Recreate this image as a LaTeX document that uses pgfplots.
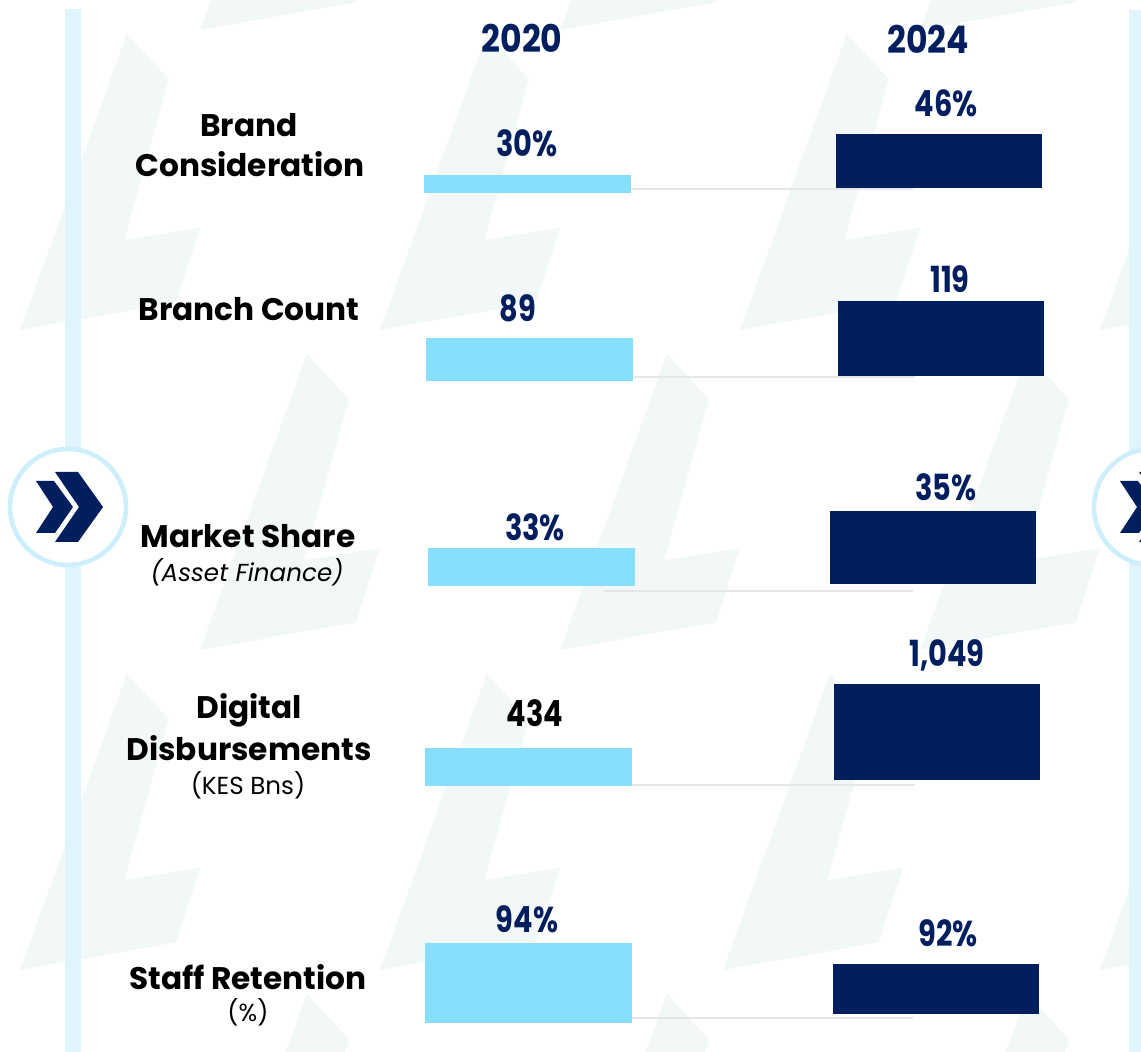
\documentclass[border=0pt]{standalone}
\usepackage{pgfplots}
\usepackage{pgfplotstable}
\usepackage{graphicx}
\usepackage{fontspec}
\setmainfont{Poppins}
\pgfplotsset{compat=1.18}
\definecolor{lb}{RGB}{135,223,252}
\definecolor{navy}{RGB}{1,31,95}
\definecolor{strip}{RGB}{223,244,253}
\definecolor{ring}{RGB}{205,239,252}
\definecolor{gline}{RGB}{230,230,230}
\definecolor{bgc}{RGB}{242,247,247}
\newcommand\catfont{\fontsize{15.6pt}{19pt}\selectfont\bfseries}
\newcommand\subfont{\fontsize{12.3pt}{14pt}\selectfont}
\newcommand\val[1]{\scalebox{0.8}[1]{\fontsize{18pt}{20pt}\selectfont\bfseries #1}}
\newcommand\yr[1]{\scalebox{0.87}[1]{\fontsize{19pt}{21pt}\selectfont\bfseries #1}}
\pgfplotstableread{
x y
0 0
89 -247
124 -209
87 -75
150 -85
130 -23
}\boltshape
\newcommand\bolt[2]{\addplot[fill=bgc, draw=none, forget plot] table[x expr=\thisrow{x}*1.2+#1, y expr=\thisrow{y}*1.2+#2] {\boltshape} -- cycle;}
% bar geometry in pixel units: x0 x1 ytop ybottom colour
\newcommand\rect[5]{\addplot[fill=#5, draw=none, forget plot] coordinates {(#1,#3) (#2,#3) (#2,#4) (#1,#4)} -- cycle;}
\begin{document}
\begin{tikzpicture}
\begin{axis}[at={(0,0)}, anchor=south west, scale only axis,
  width=570.5pt, height=526pt, xmin=0, xmax=1141, ymin=0, ymax=1052,
  y dir=reverse, hide axis, clip=true]
% background pattern
\bolt{200}{30}\bolt{560}{30}\bolt{920}{30}
\bolt{20}{330}\bolt{380}{330}\bolt{740}{330}\bolt{1100}{330}
\bolt{200}{650}\bolt{560}{650}\bolt{920}{650}
\bolt{20}{970}\bolt{380}{970}\bolt{723}{970}\bolt{1100}{970}
\bolt{200}{1290}\bolt{560}{1290}\bolt{920}{1290}
% vertical strips
\rect{65}{81}{9}{1060}{strip}
\rect{1129}{1150}{10}{1060}{strip}
% base lines
\addplot[gline, line width=1pt, forget plot] coordinates {(604,189) (913,189)};
\addplot[gline, line width=1pt, forget plot] coordinates {(604,377) (915,377)};
\addplot[gline, line width=1pt, forget plot] coordinates {(604,591) (913,591)};
\addplot[gline, line width=1pt, forget plot] coordinates {(604,785) (915,785)};
\addplot[gline, line width=1pt, forget plot] coordinates {(604,1018) (913,1018)};
% circles with chevrons
\draw[ring, line width=2.3pt, fill=white] (axis cs:68,507) circle[radius=29pt];
\draw[ring, line width=2.3pt, fill=white] (axis cs:1152,507) circle[radius=29pt];
\addplot[fill=navy, draw=none, forget plot] coordinates {(36,481) (54,481) (73,507) (55,533) (36,533) (53,507)} -- cycle;
\addplot[fill=navy, draw=none, forget plot] coordinates {(55,472) (78,472) (103,507) (78,542) (55,542) (79,507)} -- cycle;
\addplot[fill=navy, draw=none, forget plot] coordinates {(1120,481) (1138,481) (1157,507) (1139,533) (1120,533) (1137,507)} -- cycle;
\addplot[fill=navy, draw=none, forget plot] coordinates {(1139,472) (1162,472) (1187,507) (1162,542) (1139,542) (1163,507)} -- cycle;
% bars 2020 (light blue)
\rect{424}{631}{175}{193}{lb}
\rect{426}{633}{338}{381}{lb}
\rect{428}{635}{548}{586}{lb}
\rect{425}{632}{748}{786}{lb}
\rect{425}{632}{943}{1023}{lb}
% bars 2024 (navy)
\rect{836}{1042}{134}{188}{navy}
\rect{838}{1044}{301}{376}{navy}
\rect{830}{1036}{511}{584}{navy}
\rect{834}{1040}{684}{780}{navy}
\rect{833}{1039}{964}{1014}{navy}
% year headers
\node[anchor=base, inner sep=0pt, text=navy] at (axis cs:522,53) {\yr{2020}};
\node[anchor=base, inner sep=0pt, text=navy] at (axis cs:928,54) {\yr{2024}};
% category labels
\node[anchor=base, inner sep=0pt] at (axis cs:249,137) {\catfont Brand};
\node[anchor=base, inner sep=0pt] at (axis cs:250,177) {\catfont Consideration};
\node[anchor=base, inner sep=0pt] at (axis cs:249,321) {\catfont Branch Count};
\node[anchor=base, inner sep=0pt] at (axis cs:248,547) {\catfont Market Share};
\node[anchor=base, inner sep=0pt] at (axis cs:247,581) {\subfont\itshape (Asset Finance)};
\node[anchor=base, inner sep=0pt] at (axis cs:249,718) {\catfont Digital};
\node[anchor=base, inner sep=0pt] at (axis cs:249,760) {\catfont Disbursements};
\node[anchor=base, inner sep=0pt] at (axis cs:248,794) {\subfont (KES Bns)};
\node[anchor=base, inner sep=0pt] at (axis cs:248,989) {\catfont Staff Retention};
\node[anchor=base, inner sep=0pt] at (axis cs:248,1021) {\subfont (\%)};
% value labels
\node[anchor=base, inner sep=0pt, text=navy] at (axis cs:527,157) {\val{30\%}};
\node[anchor=base, inner sep=0pt, text=navy] at (axis cs:946,117) {\val{46\%}};
\node[anchor=base, inner sep=0pt, text=navy] at (axis cs:518,322) {\val{89}};
\node[anchor=base, inner sep=0pt, text=navy] at (axis cs:950,293) {\val{119}};
\node[anchor=base, inner sep=0pt, text=navy] at (axis cs:535,540) {\val{33\%}};
\node[anchor=base, inner sep=0pt, text=navy] at (axis cs:946,501) {\val{35\%}};
\node[anchor=base, inner sep=0pt, text=black] at (axis cs:535,726) {\val{434}};
\node[anchor=base, inner sep=0pt, text=navy] at (axis cs:947,666) {\val{1,049}};
\node[anchor=base, inner sep=0pt, text=navy] at (axis cs:527,932) {\val{94\%}};
\node[anchor=base, inner sep=0pt, text=navy] at (axis cs:948,946) {\val{92\%}};
\end{axis}
\pgfresetboundingbox
\useasboundingbox (0,0) rectangle (570.5pt,526pt);
\end{tikzpicture}
\end{document}
